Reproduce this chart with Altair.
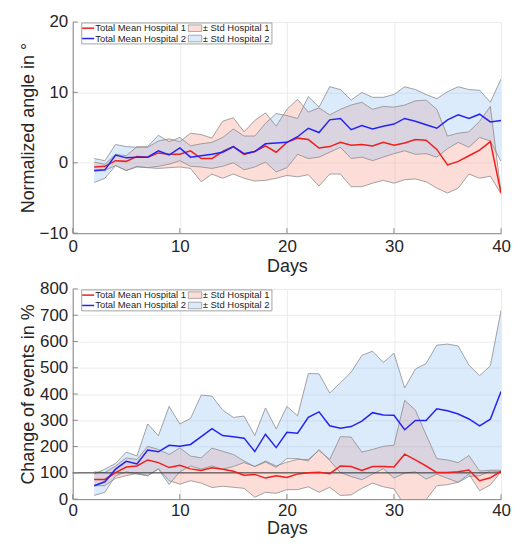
import altair as alt
import pandas as pd

FONT = "Liberation Sans"

days = list(range(2, 41))

# ---- Top panel: normalized angle (degrees) ----
ang_mean1 = [-0.6, -0.5, 0.3, 0.2, 0.9, 0.8, 1.4, 1.2, 1.2, 1.7,
             0.6, 0.6, 1.6, 2.3, 1.2, 1.6, 2.4, 1.5, 2.9, 3.5,
             3.3, 2.1, 2.3, 2.9, 2.5, 2.6, 2.4, 2.9, 2.5, 2.8,
             3.3, 3.2, 1.9, -0.3, 0.2, 1.0, 1.8, 3.0, -4.3]
ang_hi1 = [0.1, -0.2, 1.2, 1.0, 2.3, 2.2, 3.1, 3.4, 3.0, 4.2,
           4.0, 3.5, 5.9, 6.4, 4.4, 6.0, 7.1, 5.2, 7.6, 9.0,
           7.2, 7.8, 6.8, 7.6, 8.2, 8.6, 7.6, 8.0, 7.9, 8.2,
           8.8, 8.9, 7.6, 3.8, 4.2, 4.4, 5.9, 8.0, -4.2]
ang_lo1 = [-1.2, -1.1, -0.4, -1.1, -0.6, -0.7, -0.8, -0.7, -0.6, -0.8,
           -2.7, -1.6, -2.2, -1.6, -2.2, -2.6, -2.5, -2.2, -1.8, -2.0,
           -1.7, -3.3, -1.6, -1.6, -3.4, -3.4, -2.9, -2.5, -2.9, -2.4,
           -2.3, -2.7, -3.6, -4.3, -3.6, -1.6, -2.2, -1.9, -4.4]
ang_mean2 = [-1.1, -1.0, 1.1, 0.7, 0.8, 0.8, 1.7, 1.1, 2.1, 0.8,
             1.0, 1.2, 1.5, 2.3, 1.3, 1.6, 2.7, 2.8, 2.9, 3.7,
             4.9, 4.3, 6.1, 6.3, 4.7, 5.3, 4.8, 5.2, 5.5, 6.3,
             5.9, 5.4, 4.9, 6.1, 6.8, 6.3, 6.9, 5.8, 6.0]
ang_hi2 = [0.6, 0.3, 2.6, 2.3, 2.2, 2.3, 3.9, 3.0, 3.6, 2.4,
           2.7, 2.9, 3.6, 4.8, 3.8, 3.8, 5.6, 7.0, 6.7, 6.3,
           9.4, 7.9, 10.8, 10.4, 8.9, 10.0, 9.3, 9.3, 9.7, 10.8,
           10.4, 9.7, 9.1, 10.1, 10.8, 10.4, 10.3, 8.6, 11.9]
ang_lo2 = [-2.8, -2.2, -0.4, -1.1, -0.5, -0.7, -0.5, -0.2, 0.3, -0.5,
           -0.6, -0.8, -0.5, 0.0, -1.0, -0.6, 0.1, -1.3, -0.7, 1.2,
           0.6, 0.8, 1.5, 2.2, 0.6, 0.8, 0.3, 0.8, 1.3, 1.7,
           1.2, 1.3, 0.8, 2.0, 2.9, 2.2, 3.6, 3.1, 0.2]

# ---- Bottom panel: change of events (%) ----
evt_mean1 = [75, 75, 101, 122, 126, 149, 139, 120, 129, 115,
             109, 119, 114, 106, 91, 94, 80, 89, 82, 96,
             100, 102, 97, 126, 124, 109, 124, 124, 122, 171,
             149, 126, 101, 101, 104, 111, 70, 81, 106]
evt_hi1 = [104, 101, 126, 157, 151, 201, 189, 170, 195, 164,
           157, 194, 182, 170, 145, 124, 145, 126, 141, 151,
           151, 185, 151, 238, 236, 179, 189, 201, 205, 376,
           339, 245, 154, 149, 139, 166, 107, 110, 110]
evt_lo1 = [51, 51, 79, 89, 99, 89, 116, 70, 57, 70,
           61, 44, 49, 45, 41, 7, 26, 22, 36, 36,
           47, 26, 45, 14, 16, 41, 61, 47, 39, -24,
           -36, -2, 51, 55, 64, 95, 32, 54, 104]
evt_mean2 = [51, 66, 114, 144, 134, 187, 180, 205, 201, 208,
             238, 268, 242, 237, 232, 181, 247, 196, 254, 251,
             311, 332, 279, 270, 276, 297, 329, 320, 319, 264,
             299, 299, 344, 336, 324, 305, 279, 304, 410]
evt_hi2 = [95, 114, 136, 179, 164, 286, 241, 353, 286, 307,
           396, 392, 339, 311, 316, 242, 347, 267, 353, 317,
           478, 477, 404, 443, 483, 547, 563, 520, 555, 423,
           495, 516, 586, 590, 583, 510, 470, 507, 718]
evt_lo2 = [14, 26, 89, 104, 95, 89, 114, 56, 104, 126,
           114, 126, 114, 124, 139, 124, 141, 121, 154, 154,
           145, 189, 147, 101, 86, 74, 95, 116, 80, 99,
           104, 76, 95, 79, 64, 86, 89, 107, 104]

x_ticks = [0, 10, 20, 30, 40]
ang_ticks = [-10, 0, 10, 20]
evt_ticks = [0, 100, 200, 300, 400, 500, 600, 700, 800]

legend_labels = ["Total Mean Hospital 1", "\u00b1 Std Hospital 1",
                 "Total Mean Hospital 2", "\u00b1 Std Hospital 2"]

RED = "#f01e1e"
BLUE = "#2424f2"
PINK_FILL = "#f88e7d"
BLUE_FILL = "#8abcf2"
FILL_OPACITY = 0.3
EDGE = "#8c8c8c"
W = 430


def legend_layers():
    one = pd.DataFrame({"k": [0]})
    layers = [
        alt.Chart(one).mark_rect(fill="white", stroke="#8c8c8c", strokeWidth=0.8).encode(
            x=alt.value(9), x2=alt.value(200), y=alt.value(1), y2=alt.value(22))
    ]
    rows = [(6.2, RED, PINK_FILL, legend_labels[0], legend_labels[1]),
            (16.6, BLUE, BLUE_FILL, legend_labels[2], legend_labels[3])]
    for yy, lc, fc, t1, t2 in rows:
        layers.append(alt.Chart(one).mark_rule(color=lc, strokeWidth=1.5).encode(
            x=alt.value(9.5), x2=alt.value(21.5), y=alt.value(yy)))
        layers.append(alt.Chart(one).mark_text(
            align="left", baseline="middle", font=FONT, fontSize=9.5, color="#262626").encode(
            x=alt.value(22.5), y=alt.value(yy), text=alt.value(t1)))
        layers.append(alt.Chart(one).mark_rect(
            fill=fc, fillOpacity=FILL_OPACITY, stroke=EDGE, strokeWidth=0.7).encode(
            x=alt.value(116), x2=alt.value(129.5), y=alt.value(yy - 3.3), y2=alt.value(yy + 3.3)))
        layers.append(alt.Chart(one).mark_text(
            align="left", baseline="middle", font=FONT, fontSize=9.5, color="#262626").encode(
            x=alt.value(130.5), y=alt.value(yy), text=alt.value(t2)))
    return layers


def panel(m1, lo1, hi1, m2, lo2, hi2, ydomain, yticks, ytitle, height,
          ref=None, xlabel_pad=5, xtitle_pad=3):
    df = pd.DataFrame({"day": days, "m1": m1, "lo1": lo1, "hi1": hi1,
                       "m2": m2, "lo2": lo2, "hi2": hi2})
    xs = alt.Scale(domain=[0, 40], nice=False)
    ys = alt.Scale(domain=ydomain, nice=False)
    xax = alt.Axis(values=x_ticks, title="Days", labelPadding=xlabel_pad,
                   titlePadding=xtitle_pad)
    yax = alt.Axis(values=yticks, title=ytitle)

    def X(f):
        return alt.X(f, type="quantitative", scale=xs, axis=xax)

    def Y(f):
        return alt.Y(f, type="quantitative", scale=ys, axis=yax)

    base = alt.Chart(df)
    layers = [
        base.mark_area(color=PINK_FILL, opacity=FILL_OPACITY, clip=True).encode(
            x=X("day"), y=Y("lo1"), y2="hi1"),
        base.mark_area(color=BLUE_FILL, opacity=FILL_OPACITY, clip=True).encode(
            x=X("day"), y=Y("lo2"), y2="hi2"),
    ]
    for f in ["lo1", "hi1", "lo2", "hi2"]:
        layers.append(base.mark_line(color=EDGE, strokeWidth=0.8, clip=True).encode(
            x=X("day"), y=Y(f)))
    if ref is not None:
        layers.append(alt.Chart(pd.DataFrame({"r": [ref]})).mark_rule(
            color="#333333", strokeWidth=1).encode(y=Y("r")))
    layers.append(base.mark_line(color=RED, strokeWidth=1.5, clip=True).encode(
        x=X("day"), y=Y("m1")))
    layers.append(base.mark_line(color=BLUE, strokeWidth=1.5, clip=True).encode(
        x=X("day"), y=Y("m2")))
    # inward tick marks
    layers.append(alt.Chart(pd.DataFrame({"v": yticks})).mark_rule(
        color="#8a8a8a", strokeWidth=1).encode(
        y=Y("v"), x=alt.value(0), x2=alt.value(5)))
    layers.append(alt.Chart(pd.DataFrame({"v": x_ticks})).mark_rule(
        color="#8a8a8a", strokeWidth=1).encode(
        x=X("v"), y=alt.value(height), y2=alt.value(height - 5)))
    layers += legend_layers()
    return alt.layer(*layers).properties(width=W, height=height)


top = panel(ang_mean1, ang_lo1, ang_hi1, ang_mean2, ang_lo2, ang_hi2,
            [-10, 20], ang_ticks, "Normalized angle in \u00b0", 212)
bottom = panel(evt_mean1, evt_lo1, evt_hi1, evt_mean2, evt_lo2, evt_hi2,
               [0, 800], evt_ticks, "Change of events in %", 211, ref=100,
               xlabel_pad=3, xtitle_pad=2)

chart = alt.vconcat(top, bottom, spacing=3).properties(
    padding={"left": 10, "top": 3, "right": 0, "bottom": 0}
).configure_axis(
    labelFont=FONT, titleFont=FONT, labelFontSize=17, titleFontSize=18,
    titleFontWeight="normal", labelColor="#262626", titleColor="#262626",
    domainColor="#8a8a8a", gridColor="#ececec", ticks=False, labelPadding=5,
    labelFlush=False
).configure_axisY(titlePadding=2).configure_view(
    stroke="#d4d4d4"
)

chart.save("out.html", embed_options={"renderer": "svg", "actions": False})
